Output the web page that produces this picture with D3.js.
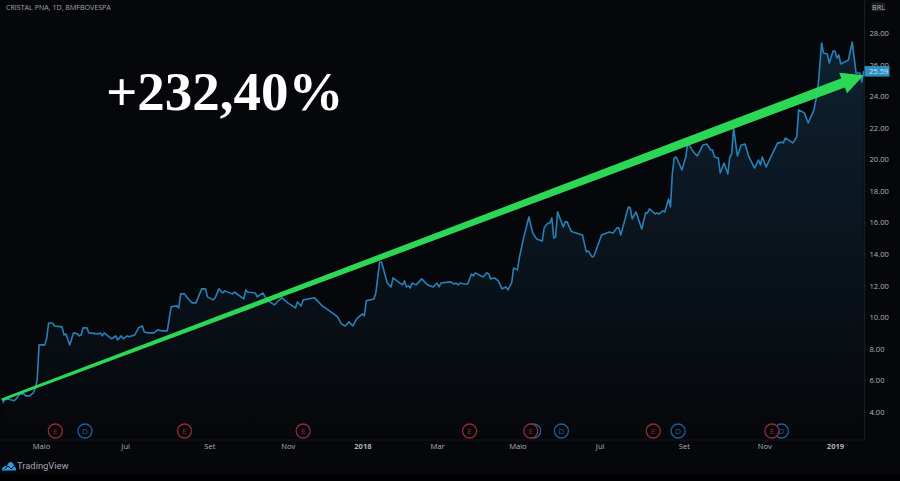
<!DOCTYPE html>
<html>
<head>
<meta charset="utf-8">
<script src="https://cdn.jsdelivr.net/npm/d3@7"></script>
<style>
html, body { margin: 0; padding: 0; background: #06070a; overflow: hidden; }
text { font-family: "Open Sans", sans-serif; }
</style>
</head>
<body>
<div id="chart"></div>
<script>
// trading day counted from 1 May 2017
var days = [-20,-19,-17,-16,-14,-13,-11,-9,-8,-6,-4,-3,-2,-1,2,3,4,6,7,11,12,13,15,16,17,19,20,21,22,24,25,30,31,32,33,35,37,39,40,42,43,45,46,49,51,53,54,56,59,61,63,66,68,71,72,73,75,77,79,81,84,86,87,90,91,93,95,96,100,101,106,107,108,112,113,116,118,122,124,126,129,133,134,136,137,143,147,153,155,157,159,161,163,165,168,169,170,174,175,177,178,181,183,184,186,189,190,191,192,193,194,196,199,202,205,207,208,209,214,216,217,218,219,221,223,225,226,227,231,233,234,235,237,239,241,243,244,246,247,249,250,252,255,257,259,262,263,265,266,267,268,269,270,273,274,275,277,278,283,285,286,288,289,293,297,299,301,302,303,307,308,309,311,314,316,317,318,321,322,323,325,326,328,329,330,331,332,335,337,338,341,343,346,348,350,351,352,354,355,357,359,360,361,362,364,366,368,370,373,375,376,377,379,385,386,387,388,389,393,395,396,399,401,404,406,408,409,411,412,414,415,416,417,418,420,422,424,426,427,428,429,430];
var prices = [4.58,4.77,4.83,4.77,4.71,4.83,5.15,5.15,5.02,5.02,5.21,5.53,6.03,8.25,8.25,8.69,9.64,9.64,9.45,9.39,8.88,8.95,8.25,8.63,9.01,8.95,8.82,8.88,9.33,9.33,9.01,8.95,9.01,8.82,9.01,8.82,8.63,8.82,8.57,8.82,8.63,8.82,8.76,8.88,9.33,9.45,9.07,9.01,9.01,9.20,9.14,9.14,10.66,10.72,10.59,11.48,11.48,11.16,10.91,10.91,11.80,11.80,11.29,11.10,11.23,11.80,11.54,11.67,11.48,11.60,11.16,11.73,11.60,11.54,11.29,11.54,11.10,10.78,11.04,11.23,10.91,10.59,10.97,10.72,11.10,11.23,10.72,10.21,10.02,9.58,9.45,9.71,9.45,9.90,10.21,10.09,11.04,11.16,11.54,13.50,13.50,12.17,11.92,12.49,12.30,12.05,12.30,11.92,11.99,11.86,12.17,12.05,12.43,12.05,11.92,12.17,11.92,12.17,12.24,12.11,12.17,12.05,12.17,12.11,12.11,12.74,12.62,12.81,12.55,12.81,12.74,12.43,12.49,12.30,11.80,11.92,11.73,12.17,13.12,13.00,13.76,14.90,16.35,15.34,14.96,14.83,15.66,15.97,15.97,16.29,15.02,15.09,16.67,15.72,16.04,16.04,15.47,15.40,15.21,14.14,14.20,13.82,13.88,15.21,15.40,15.34,15.66,15.66,15.21,16.99,16.92,16.23,16.67,15.59,16.61,16.61,16.86,16.54,16.61,16.54,16.73,16.67,17.49,16.99,19.14,20.09,20.15,19.33,20.15,21.04,20.47,20.21,20.91,20.97,20.59,20.59,20.15,20.09,19.14,19.77,19.07,20.15,20.34,21.99,20.21,20.91,20.97,20.15,19.45,19.96,19.64,20.15,19.52,21.04,21.04,21.10,21.04,21.35,21.04,21.42,23.13,22.94,22.30,23.13,24.39,27.37,26.73,26.67,26.10,26.86,26.86,26.42,26.61,26.04,26.16,26.29,27.43,25.47,25.47,25.47,24.90,25.59];

var priceTicks = [4,6,8,10,12,14,16,18,20,22,24,26,28];
var monthDays = [0,44,88,129,168,207,249,292,336,378,415];
var monthLabels = ["Maio","Jul","Set","Nov","2018","Mar","Maio","Jul","Set","Nov","2019"];
var earningsDays = [7.5,75,137,224,256,320,382];
var dividendDays = [23,257.5,272,333,387];
var lastPrice = "25.59";

// the green arrow, start and tip as [day, price]
var arrowFrom = [-20.5, 4.77];
var arrowTo = [430, 25.33];

var width = 900, height = 481;
var plotRight = 864.5, plotBottom = 440;

var svg = d3.select("#chart").append("svg")
    .attr("width", width)
    .attr("height", height)
    .style("display", "block");

var x = d3.scaleLinear().domain([0, 415]).range([41, 835]);
var y = d3.scaleLinear().domain([4, 28]).range([412, 33]);

svg.append("rect").attr("width", width).attr("height", height).attr("fill", "#06070a");
svg.append("rect").attr("y", 475).attr("width", width).attr("height", 6).attr("fill", "#000");

var defs = svg.append("defs");
var grad = defs.append("linearGradient")
    .attr("id", "areaFill")
    .attr("gradientUnits", "userSpaceOnUse")
    .attr("x1", 0).attr("x2", 0)
    .attr("y1", 42).attr("y2", plotBottom);
grad.append("stop").attr("offset", "0%").attr("stop-color", "#2a7fb8").attr("stop-opacity", 0.22);
grad.append("stop").attr("offset", "100%").attr("stop-color", "#2a7fb8").attr("stop-opacity", 0);

var points = days.map(function (d, i) { return [d, prices[i]]; });

var area = d3.area()
    .x(function (d) { return x(d[0]); })
    .y0(plotBottom)
    .y1(function (d) { return y(d[1]); });

var line = d3.line()
    .x(function (d) { return x(d[0]); })
    .y(function (d) { return y(d[1]); });

svg.append("path").attr("d", area(points)).attr("fill", "url(#areaFill)");
svg.append("path").attr("d", line(points))
    .attr("fill", "none")
    .attr("stroke", "#2880b8")
    .attr("stroke-width", 1.6)
    .attr("stroke-linejoin", "round");

// axis lines
svg.append("line").attr("x1", plotRight).attr("x2", plotRight).attr("y1", 0).attr("y2", plotBottom)
    .attr("stroke", "#1b1d23");
svg.append("line").attr("x1", 0).attr("x2", plotRight).attr("y1", plotBottom).attr("y2", plotBottom)
    .attr("stroke", "#15171c");

// price axis
var yAxis = svg.append("g")
    .attr("transform", "translate(" + plotRight + ",0)")
    .call(d3.axisRight(y).tickValues(priceTicks).tickFormat(d3.format(".2f")).tickSize(2).tickPadding(3));
yAxis.select(".domain").remove();
yAxis.selectAll("line").attr("stroke", "#1b1d23");
yAxis.selectAll("text").attr("fill", "#b0b2b6").attr("font-size", 7.6);

// time axis
var xAxis = svg.append("g")
    .attr("transform", "translate(0," + plotBottom + ")")
    .call(d3.axisBottom(x).tickValues(monthDays)
        .tickFormat(function (d, i) { return monthLabels[i]; })
        .tickSize(2).tickPadding(2));
xAxis.select(".domain").remove();
xAxis.selectAll("line").attr("stroke", "#1b1d23");
xAxis.selectAll("text").attr("fill", "#b0b2b6").attr("font-size", 7.6);
xAxis.selectAll("text").filter(function (d, i) { return monthLabels[i].length == 4 && monthLabels[i][0] == "2"; })
    .attr("font-weight", 700);

// dividend and earnings marks
function drawEvents(list, letter, color) {
    var g = svg.append("g").selectAll("g").data(list).enter().append("g")
        .attr("transform", function (d) { return "translate(" + x(d) + ",431)"; });
    g.append("circle")
        .attr("r", 7)
        .attr("fill", "#06070a")
        .attr("stroke", color)
        .attr("stroke-width", 1.3);
    g.append("text")
        .attr("text-anchor", "middle")
        .attr("dy", 2.9)
        .attr("font-size", 8)
        .attr("fill", color)
        .text(letter);
}
drawEvents(dividendDays, "D", "#1c5f9e");
drawEvents(earningsDays, "E", "#942a35");

// arrow, tapered shaft and head worked out from the two end points
var ax = x(arrowFrom[0]), ay = y(arrowFrom[1]);
var bx = x(arrowTo[0]), by = y(arrowTo[1]);
var len = Math.sqrt((bx - ax) * (bx - ax) + (by - ay) * (by - ay));
var ux = (bx - ax) / len, uy = (by - ay) / len;
var nx = -uy, ny = ux;
var headLen = 22, headHalf = 11, tailHalf = 1.3, neckHalf = 4.9;
var nkx = bx - ux * headLen, nky = by - uy * headLen;
var arrowPts = [
    [ax + nx * tailHalf, ay + ny * tailHalf],
    [nkx + nx * neckHalf, nky + ny * neckHalf],
    [nkx + nx * headHalf, nky + ny * headHalf],
    [bx, by],
    [nkx - nx * headHalf, nky - ny * headHalf],
    [nkx - nx * neckHalf, nky - ny * neckHalf],
    [ax - nx * tailHalf, ay - ny * tailHalf]
];
svg.append("polygon")
    .attr("points", arrowPts.map(function (p) { return p.join(","); }).join(" "))
    .attr("fill", "#2fe05a")
    .attr("fill-opacity", 0.96);

// last price tag
svg.append("rect")
    .attr("x", plotRight).attr("y", y(+lastPrice) - 5)
    .attr("width", 25).attr("height", 10.5)
    .attr("fill", "#2f8fbe");
svg.append("text")
    .attr("x", plotRight + 4.5).attr("y", y(+lastPrice) + 2.8)
    .attr("font-size", 7.6)
    .attr("fill", "#c4e6f4")
    .text(lastPrice);

// currency box
svg.append("rect")
    .attr("x", 872).attr("y", 3).attr("width", 13).attr("height", 8).attr("rx", 2)
    .attr("fill", "#15171c").attr("stroke", "#2a2c33").attr("stroke-width", 0.7);
svg.append("text")
    .attr("x", 878.5).attr("y", 9.6)
    .attr("text-anchor", "middle")
    .attr("font-size", 7.2)
    .attr("fill", "#b8babe")
    .text("BRL");

// title and big label
svg.append("text")
    .attr("x", 6).attr("y", 10)
    .attr("font-size", 7.1)
    .attr("fill", "#a0a2a6")
    .text("CRISTAL PNA, 1D, BMFBOVESPA");
svg.append("text")
    .attr("x", 106).attr("y", 110)
    .attr("font-size", 55)
    .attr("font-weight", 700)
    .attr("fill", "#ffffff")
    .style("font-family", '"Liberation Serif", serif')
    .text("+232,40%");

// TradingView logo
var logo = svg.append("g").attr("transform", "translate(1,460)");
logo.append("path")
    .attr("d", "M1 10.5 Q0.5 7 4 6 Q5 5.5 6 6 Q7.5 1.5 10 2 Q12.5 2.5 13 6 Q15.5 7.5 15 10.5 Z")
    .attr("fill", "#2f9bd6");
logo.append("path")
    .attr("d", "M3.5 9 L7 6 L10 9 L13 6.5")
    .attr("fill", "none").attr("stroke", "#06070a").attr("stroke-width", 1);
svg.append("text")
    .attr("x", 17).attr("y", 469)
    .attr("font-size", 9.4)
    .attr("fill", "#a4a6aa")
    .style("font-family", "Roboto, sans-serif")
    .text("TradingView");
</script>
</body>
</html>
